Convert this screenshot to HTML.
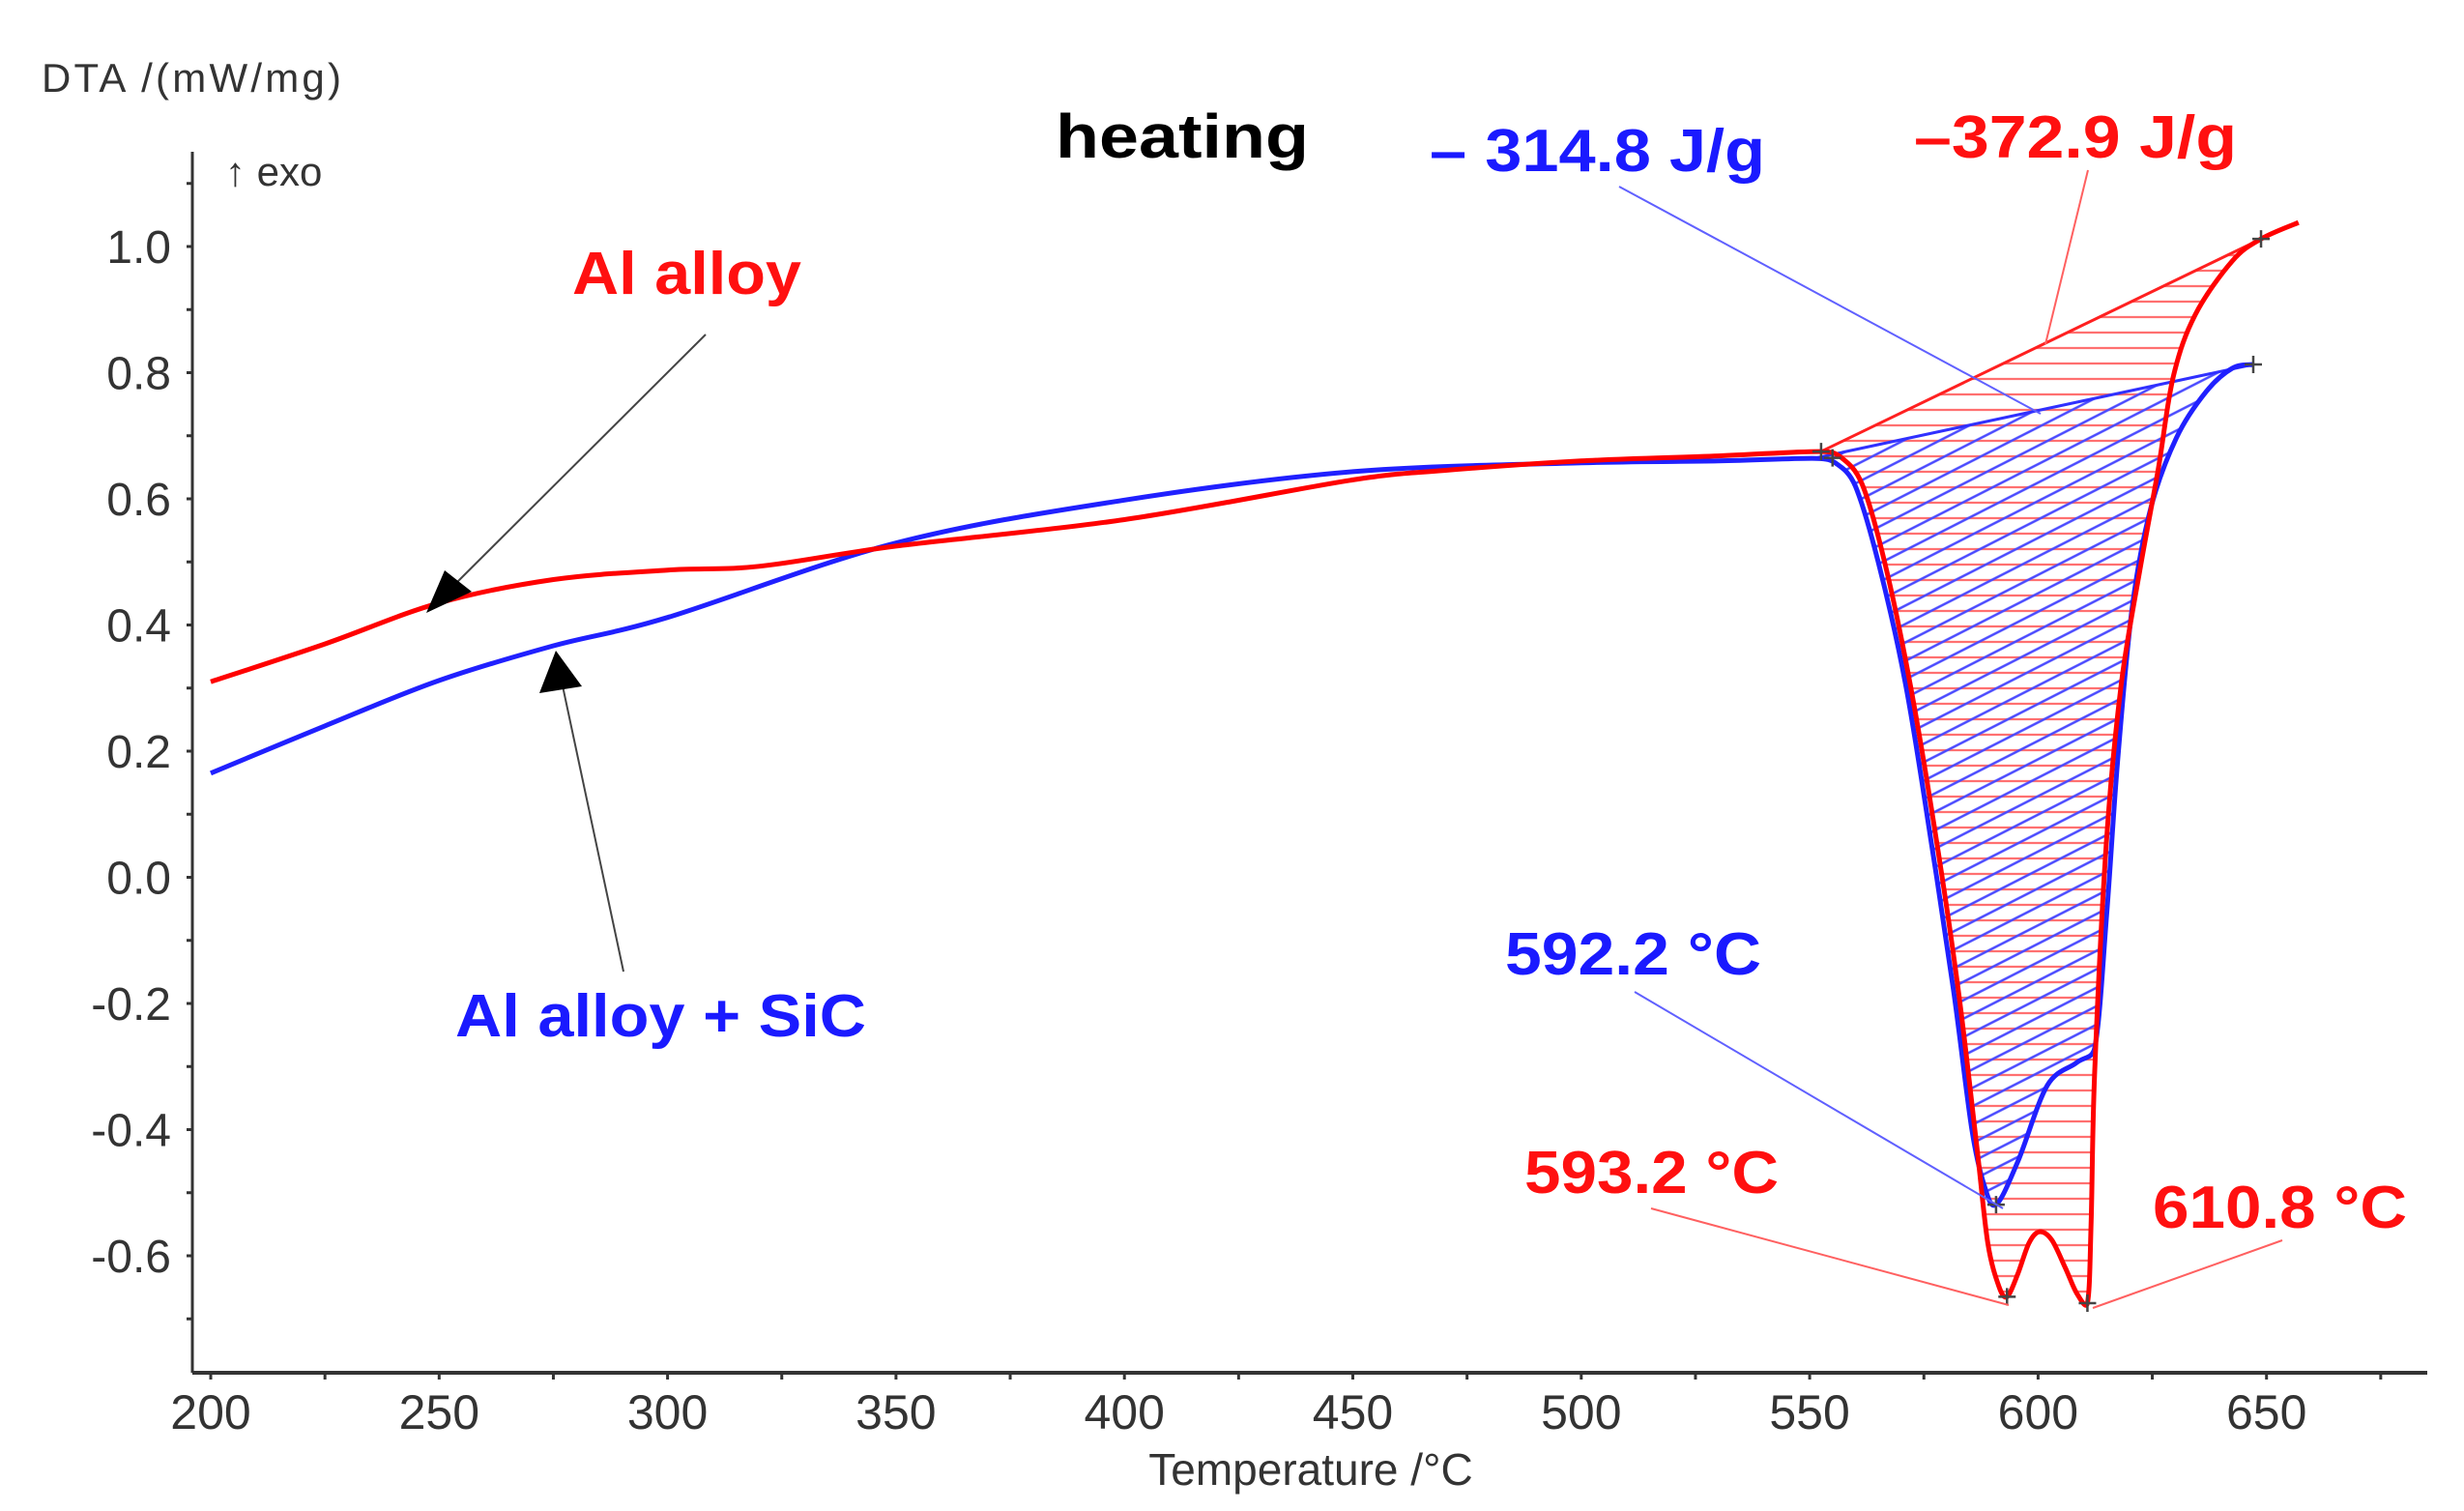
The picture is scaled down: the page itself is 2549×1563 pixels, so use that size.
<!DOCTYPE html>
<html><head><meta charset="utf-8"><style>
html,body{margin:0;padding:0;background:#fff}
svg{display:block}
text{font-family:"Liberation Sans",Arial,sans-serif}
</style></head><body>
<svg id="chart" xmlns="http://www.w3.org/2000/svg" width="2549" height="1563" viewBox="0 0 2549 1563">
<defs>
<pattern id="hatchRed" patternUnits="userSpaceOnUse" width="40" height="16"><line x1="0" y1="8" x2="40" y2="8" stroke="#ff7070" stroke-width="2.2"/></pattern>
<pattern id="hatchBlue" patternUnits="userSpaceOnUse" width="40" height="17" patternTransform="rotate(-27)"><line x1="0" y1="8" x2="40" y2="8" stroke="#4a4aff" stroke-width="2.6"/></pattern>
<clipPath id="clipRed"><path id="clipRedPath"/></clipPath>
<clipPath id="clipBlue"><path id="clipBluePath"/></clipPath>
</defs>
<g id="axes"></g>
<g id="plot"></g>
<g id="annot"></g>
</svg>
<script>
const xTicks=[200,250,300,350,400,450,500,550,600,650];
const yTicks=[1.0,0.8,0.6,0.4,0.2,0.0,-0.2,-0.4,-0.6];
const yTickLabels=["1.0","0.8","0.6","0.4","0.2","0.0","-0.2","-0.4","-0.6"];
const tempRed=[200,225,250,275,300,320,350,400,450,470,500,530,552.5,557,561.5,566.4,572,577.7,582.6,586.6,589,591.5,593.2,595.5,598,600.3,603,606,608.5,610.8,611.6,612.4,615,618.2,622.3,626.3,629.6,634.4,642.5,648.8,657];
const dtaRed=[0.31,0.37,0.435,0.472,0.487,0.493,0.525,0.567,0.63,0.645,0.66,0.668,0.675,0.665,0.623,0.50,0.306,0.061,-0.183,-0.428,-0.58,-0.65,-0.665,-0.63,-0.58,-0.562,-0.575,-0.62,-0.66,-0.675,-0.55,-0.306,0.061,0.306,0.488,0.647,0.794,0.892,0.977,1.012,1.038];
const tempBlue=[200,225,250,275,300,350,400,450,500,530,551.5,556,560,565,571,576.5,581.5,585.5,588.2,590.8,595.6,602,608.4,612.4,615,617.4,620.6,624.7,630.3,636.8,642.5,647.1];
const dtaBlue=[0.165,0.24,0.312,0.367,0.412,0.53,0.598,0.643,0.657,0.66,0.664,0.655,0.62,0.50,0.306,0.061,-0.18,-0.40,-0.488,-0.519,-0.45,-0.33,-0.294,-0.27,-0.06,0.183,0.428,0.586,0.697,0.77,0.807,0.813];
const baseRedT=[552.5,648.8], baseRedV=[0.675,1.012];
const baseBlueT=[551.5,647.1], baseBlueV=[0.665,0.813];
const markT=[552.5,555,648.8,647.1,593.2,610.8,590.8];
const markV=[0.675,0.665,1.012,0.813,-0.665,-0.675,-0.519];

const X=t=>218+(t-200)/50*236.3;
const Y=v=>907.5-v*652.5;
const NS="http://www.w3.org/2000/svg";
function mk(tag,attrs,parent,txt){const e=document.createElementNS(NS,tag);for(const k in attrs)e.setAttribute(k,attrs[k]);if(txt!==undefined)e.textContent=txt;parent.appendChild(e);return e;}
function smooth(ts,vs,i0,i1){const p=[];for(let i=i0;i<=i1;i++)p.push([X(ts[i]),Y(vs[i])]);let d="M"+p[0][0].toFixed(1)+","+p[0][1].toFixed(1);
for(let i=0;i<p.length-1;i++){const a=p[Math.max(i-1,0)],b=p[i],c=p[i+1],e=p[Math.min(i+2,p.length-1)];
const dl=Math.hypot(c[0]-b[0],c[1]-b[1]);
const la=Math.hypot(c[0]-a[0],c[1]-a[1])||1, le=Math.hypot(e[0]-b[0],e[1]-b[1])||1;
const k1=Math.min(1/6,dl/(2*la)), k2=Math.min(1/6,dl/(2*le));
const c1=[b[0]+(c[0]-a[0])*k1,b[1]+(c[1]-a[1])*k1],c2=[c[0]-(e[0]-b[0])*k2,c[1]-(e[1]-b[1])*k2];
d+=" C"+c1[0].toFixed(1)+","+c1[1].toFixed(1)+" "+c2[0].toFixed(1)+","+c2[1].toFixed(1)+" "+c[0].toFixed(1)+","+c[1].toFixed(1);}return d;}
const axes=document.getElementById('axes'),plot=document.getElementById('plot'),annot=document.getElementById('annot');
let el=mk('line',{x1:199,y1:157,x2:199,y2:1420,stroke:'#333','stroke-width':3},axes);

el=mk('line',{x1:199,y1:1420,x2:2511,y2:1420,stroke:'#333','stroke-width':4},axes);

for(let v=-0.7;v<=1.15;v+=0.1){const y=Y(v);mk('line',{x1:193,y1:y,x2:199,y2:y,stroke:'#333','stroke-width':3},axes);}
yTicks.forEach((v,i)=>{el=mk('text',{x:177,y:Y(v)+17,'font-size':48,'text-anchor':'end',fill:'#333'},axes,yTickLabels[i]);
});
for(let t=200;t<=675;t+=25){const x=X(t);mk('line',{x1:x,y1:1420,x2:x,y2:1427,stroke:'#333','stroke-width':3},axes);}
xTicks.forEach(t=>{el=mk('text',{x:X(t),y:1478,'font-size':50,'text-anchor':'middle',fill:'#333'},axes,String(t));
});
el=mk('text',{x:1356,y:1536,'font-size':46,'text-anchor':'middle',fill:'#333'},axes,'Temperature /°C');

el=mk('text',{x:43,y:95,'font-size':42,fill:'#333',textLength:310},axes,'DTA /(mW/mg)');

el=mk('text',{x:233,y:192,'font-size':42,fill:'#333'},axes,'↑ exo');

const rs=tempRed.indexOf(552.5),re=tempRed.indexOf(648.8);
document.getElementById('clipRedPath').setAttribute('d',smooth(tempRed,dtaRed,rs,re)+" L"+X(baseRedT[0])+","+Y(baseRedV[0])+"Z");
const bs=tempBlue.indexOf(551.5),be=tempBlue.length-1;
document.getElementById('clipBluePath').setAttribute('d',smooth(tempBlue,dtaBlue,bs,be)+" L"+X(baseBlueT[0])+","+Y(baseBlueV[0])+"Z");
el=mk('rect',{x:1800,y:150,width:700,height:1300,fill:'url(#hatchRed)','clip-path':'url(#clipRed)'},plot);

el=mk('rect',{x:1800,y:150,width:700,height:1300,fill:'url(#hatchBlue)','clip-path':'url(#clipBlue)'},plot);

el=mk('line',{x1:X(baseBlueT[0]),y1:Y(baseBlueV[0]),x2:X(baseBlueT[1]),y2:Y(baseBlueV[1]),stroke:'#3030ff','stroke-width':3},plot);

el=mk('line',{x1:X(baseRedT[0]),y1:Y(baseRedV[0]),x2:X(baseRedT[1]),y2:Y(baseRedV[1]),stroke:'#ff2020','stroke-width':3},plot);

el=mk('path',{d:smooth(tempBlue,dtaBlue,0,tempBlue.length-1),fill:'none',stroke:'#2020ff','stroke-width':5},plot);

el=mk('path',{d:smooth(tempRed,dtaRed,0,tempRed.length-1),fill:'none',stroke:'#ff0000','stroke-width':5},plot);

markT.forEach((t,i)=>{const x=X(t),y=Y(markV[i]);
el=mk('path',{d:`M${x-9},${y}H${x+9}M${x},${y-9}V${y+9}`,stroke:'#444','stroke-width':2.5},plot);
});
const leaders=[[1675,193,2111,428,'#6060ff'],[2160,176,2116,356,'#ff6060'],[1691,1026,2072,1250,'#6060ff'],[1708,1250,2078,1350,'#ff6060'],[2361,1283,2165,1353,'#ff6060'],[730,346,455,620,'#444'],[645,1005,580,700,'#444']];
leaders.forEach(l=>{el=mk('line',{x1:l[0],y1:l[1],x2:l[2],y2:l[3],stroke:l[4],'stroke-width':2},annot);
});
el=mk('polygon',{points:'441,634 460,590 488,612',fill:'#000'},annot);

el=mk('polygon',{points:'575,673 558,717 602,710',fill:'#000'},annot);

const labels=[['heating',1092,163,64,'#000',262,'heating-title'],['– 314.8 J/g',1479,177,62,'#1a1aff',347,'blue-enthalpy-label'],['–372.9 J/g',1980,163,62,'#ff1010',334,'red-enthalpy-label'],['Al alloy',592,304,62,'#ff1010',237,'al-alloy-label'],['Al alloy + SiC',471,1072,62,'#1a1aff',425,'al-alloy-sic-label'],['592.2 °C',1557,1008,62,'#1a1aff',265,'blue-peak-temp-label'],['593.2 °C',1577,1234,62,'#ff1010',263,'red-peak1-temp-label'],['610.8 °C',2227,1270,62,'#ff1010',263,'red-peak2-temp-label']];
labels.forEach(l=>{el=mk('text',{x:l[1],y:l[2],'font-size':l[3],'font-weight':'bold',fill:l[4],textLength:l[5],lengthAdjust:'spacingAndGlyphs'},annot,l[0]);
});
</script>
</body></html>
